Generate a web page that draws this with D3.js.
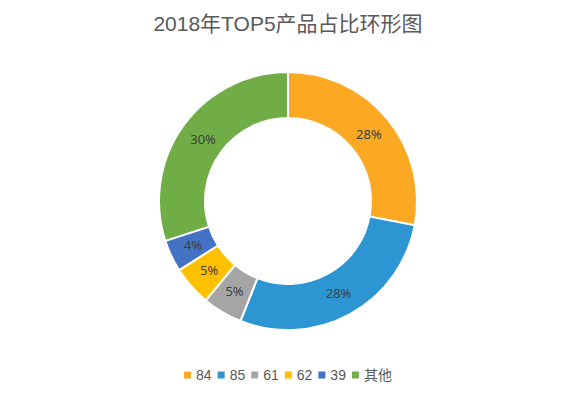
<!DOCTYPE html>
<html><head><meta charset="utf-8">
<script src="https://cdn.jsdelivr.net/npm/d3@7"></script>
<style>body{margin:0;background:#fff;}svg{display:block;}</style>
</head><body>
<svg id="c" width="575" height="396"></svg>
<script>
const categories = ["84", "85", "61", "62", "39", "其他"];
const values = [28, 28, 5, 5, 4, 30];
const colors = ["#FBA922", "#2E95D3", "#A5A5A5", "#FFC000", "#4472C4", "#70AD47"];
const title = "2018年TOP5产品占比环形图";

const svg = d3.select("#c");
const cx = 288, cy = 201, rOuter = 129, rInner = 83;
const font = "'Liberation Sans',Arial,'Noto Sans CJK SC',sans-serif";
const labelFont = "'Noto Sans','Liberation Sans',sans-serif";

svg.append("text").attr("x", cx).attr("y", 31).attr("text-anchor", "middle")
  .attr("font-family", font).attr("font-size", 21).attr("fill", "#595959").text(title);

const data = categories.map((c, i) => ({cat: c, value: values[i], color: colors[i]}));
const pie = d3.pie().value(d => d.value).sort(null);
const arc = d3.arc().innerRadius(rInner).outerRadius(rOuter);
const labelArc = d3.arc().innerRadius(105).outerRadius(105);
const total = d3.sum(values);

const g = svg.append("g").attr("transform", `translate(${cx},${cy})`);
const arcs = pie(data);
g.selectAll("path").data(arcs).join("path")
  .attr("d", arc).attr("fill", d => d.data.color)
  .attr("stroke", "#fff").attr("stroke-width", 2);

g.selectAll("text").data(arcs).join("text")
  .attr("transform", d => `translate(${labelArc.centroid(d)})`)
  .attr("text-anchor", "middle").attr("dy", "0.35em")
  .attr("font-family", labelFont).attr("font-size", 13).attr("fill", "#404040")
  .text(d => Math.round(d.data.value / total * 100) + "%");

// legend
const lg = svg.append("g");
let x = 0;
data.forEach(d => {
  const it = lg.append("g");
  it.append("rect").attr("x", 0).attr("y", -3.5).attr("width", 7).attr("height", 7).attr("fill", d.color);
  const t = it.append("text").attr("x", 12).attr("dy", "0.35em")
    .attr("font-family", font).attr("font-size", 14).attr("fill", "#595959").text(d.cat);
  const w = 12 + t.node().getComputedTextLength();
  it.attr("transform", `translate(${x},0)`);
  x += w + 6;
});
const totalW = x - 6;
lg.attr("transform", `translate(${cx - totalW / 2},375)`);
</script>
</body></html>
